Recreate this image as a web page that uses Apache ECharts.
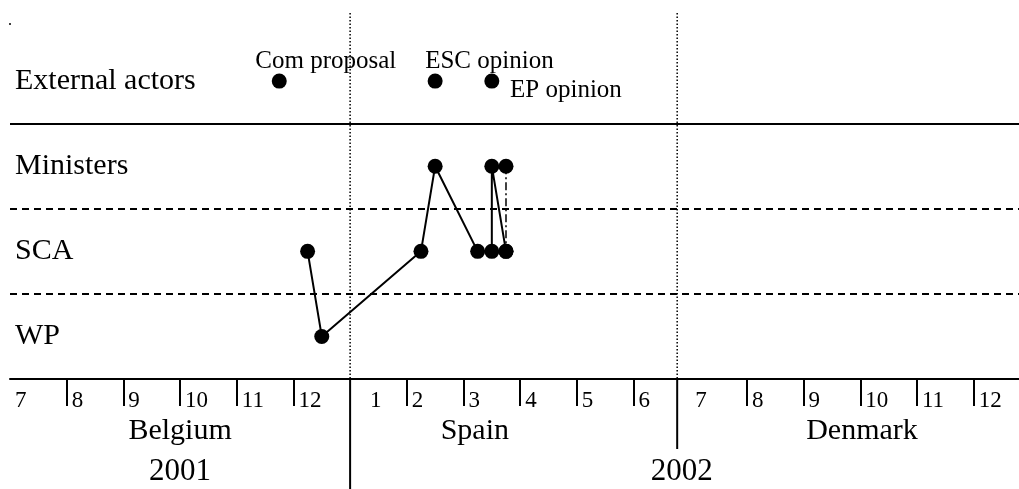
<!DOCTYPE html>
<html><head><meta charset="utf-8">
<script src="https://cdn.jsdelivr.net/npm/echarts@6/dist/echarts.min.js"></script>
<style>html,body{margin:0;padding:0;background:#fff}#c{width:1019px;height:489px}</style>
</head><body><div id="c"></div>
<script>
// ---- data ----
const rowNames = ['WP', 'SCA', 'Ministers', 'External actors'];
const monthLabels = ['7','8','9','10','11','12','1','2','3','4','5','6','7','8','9','10','11','12'];
const presidencies = ['Belgium', 'Spain', 'Denmark'];
const presidencyLabelPos = [3, 8.2, 15.03];
const years = ['2001', '2002'];
const yearLabelPos = [3, 11.85];
const presidencyBounds = [6, 11.77];
const rowBounds = [0.5, 1.5, 2.5];
const extEvents = ['Com proposal', 'ESC opinion', 'EP opinion'];
const extX = [4.75, 7.5, 8.5];
const chainX = [5.25, 5.5, 7.25, 7.5, 8.25, 8.5, 8.5, 8.75];
const chainRow = [1, 0, 1, 2, 1, 1, 2, 1];
const dashX = [8.75, 8.75];
const dashRow = [2, 1];

// ---- styles ----
const FONT = '"Liberation Serif","Times New Roman",serif';
const INK = '#000';
const X_MIN = 0, X_MAX = 17.8, Y_MIN = -0.5, Y_MAX = 3.8;
const dividerExt = [110, 70];
const rowLineStyles = [[7, 5], [7, 5], 'solid'];
const extLabelPos = [[-16.5, -12.5], [-2.5, -12.5], [25.7, 17]];

const monthIdx = monthLabels.map((_, i) => i);
const tickVals = monthIdx.filter(i => i % 6 !== 0);
const findIdx = (arr, v) => arr.findIndex(a => Math.abs(a - v) < 1e-6);

const chart = echarts.init(document.getElementById('c'), null, {renderer: 'canvas'});
const xBase = {type: 'value', min: X_MIN, max: X_MAX, gridIndex: 0, position: 'bottom',
  splitLine: {show: false}};

const option = {
  animation: false,
  backgroundColor: '#fff',
  grid: {left: 10, right: 0, top: 13, bottom: 110},
  xAxis: [
    Object.assign({}, xBase, {
      axisLine: {show: true, onZero: false, lineStyle: {color: INK, width: 2}},
      axisTick: {show: true, customValues: tickVals, length: 27, lineStyle: {color: INK, width: 2}},
      axisLabel: {
        customValues: monthIdx, align: 'left', verticalAlign: 'middle', margin: 22,
        color: INK, fontFamily: FONT, fontSize: 23,
        formatter: v => (v === 6 ? '{f|' : '{m|') + monthLabels[Math.round(v)] + '}',
        rich: {
          m: {padding: [0, 0, 0, 5], color: INK, fontFamily: FONT, fontSize: 23},
          f: {padding: [0, 0, 0, 20], color: INK, fontFamily: FONT, fontSize: 23}
        }
      }
    }),
    Object.assign({}, xBase, {
      axisLine: {show: false, onZero: false}, axisTick: {show: false},
      axisLabel: {
        customValues: presidencyLabelPos, align: 'center', verticalAlign: 'middle', margin: 52,
        color: INK, fontFamily: FONT, fontSize: 30,
        formatter: v => presidencies[findIdx(presidencyLabelPos, v)]
      }
    }),
    Object.assign({}, xBase, {
      axisLine: {show: false, onZero: false}, axisTick: {show: false},
      axisLabel: {
        customValues: yearLabelPos, align: 'center', verticalAlign: 'middle', margin: 93,
        color: INK, fontFamily: FONT, fontSize: 31,
        formatter: v => years[findIdx(yearLabelPos, v)]
      }
    })
  ],
  yAxis: {
    type: 'value', min: Y_MIN, max: Y_MAX,
    axisLine: {show: false}, axisTick: {show: false}, splitLine: {show: false},
    axisLabel: {
      customValues: rowNames.map((_, i) => i), inside: true, margin: 5,
      color: INK, fontFamily: FONT, fontSize: 30,
      formatter: v => rowNames[Math.round(v)]
    }
  },
  graphic: [{type: 'circle', shape: {cx: 10, cy: 24, r: 1}, style: {fill: INK}}],
  series: [
    {
      type: 'custom', coordinateSystem: 'cartesian2d', clip: false, silent: true, z: 1,
      data: presidencyBounds.map(k => [k, 0]),
      encode: {x: 0, y: 1},
      renderItem: (params, api) => {
        const k = api.value(0);
        const top = api.coord([k, Y_MAX]);
        const bot = api.coord([k, Y_MIN]);
        const ext = dividerExt[params.dataIndex];
        return {type: 'group', children: [
          {type: 'line', shape: {x1: top[0], y1: top[1], x2: bot[0], y2: bot[1]},
           style: {stroke: INK, lineWidth: 1.5, lineDash: [1.5, 2]}},
          {type: 'line', shape: {x1: bot[0], y1: bot[1], x2: bot[0], y2: bot[1] + ext},
           style: {stroke: INK, lineWidth: 2}}
        ]};
      }
    },
    {
      type: 'line', silent: true, z: 2, symbol: 'circle', symbolSize: 15,
      data: dashX.map((x, i) => [x, dashRow[i]]),
      itemStyle: {color: INK, opacity: 1},
      lineStyle: {color: INK, width: 1.5, type: [8, 3, 2, 3]}
    },
    {
      type: 'line', silent: true, z: 3, symbol: 'circle', symbolSize: 15,
      data: chainX.map((x, i) => [x, chainRow[i]]),
      itemStyle: {color: INK, opacity: 1}, lineStyle: {color: INK, width: 2},
      markLine: {
        silent: true, symbol: ['none', 'none'], label: {show: false},
        data: rowBounds.map((v, i) => ({yAxis: v, lineStyle: {color: INK, width: 2, type: rowLineStyles[i]}}))
      }
    },
    {
      type: 'scatter', silent: true, z: 3, symbol: 'circle', symbolSize: 15,
      itemStyle: {color: INK, opacity: 1},
      data: extX.map((x, i) => ({
        value: [x, 3],
        label: {show: true, formatter: extEvents[i], position: extLabelPos[i],
          align: 'left', verticalAlign: 'middle', color: INK, opacity: 1, fontFamily: FONT, fontSize: 25}
      }))
    }
  ]
};
chart.setOption(option);
</script>
</body></html>
